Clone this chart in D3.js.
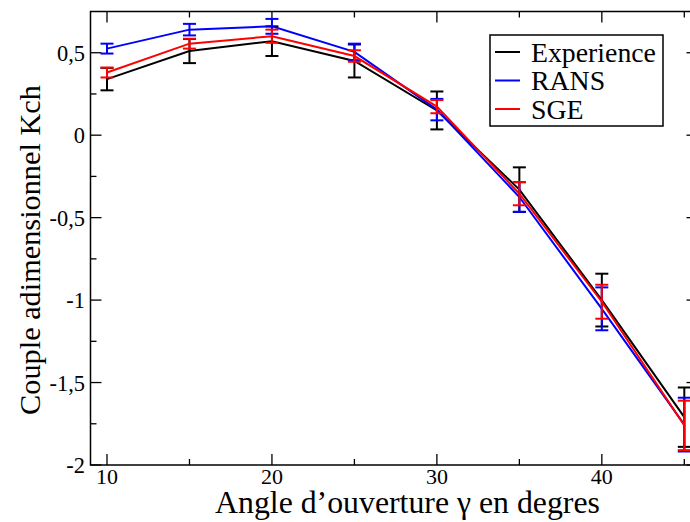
<!DOCTYPE html>
<html>
<head>
<meta charset="utf-8">
<script src="https://cdn.jsdelivr.net/npm/d3@7"></script>
<style>
  body { margin: 0; background: #fff; }
</style>
</head>
<body>
<svg id="graphe" width="690" height="522"></svg>
<script>
// angle d'ouverture (degres)
const angles = [10, 15, 20, 25, 30, 35, 40, 45];
// couple adimensionnel Kch et barres d'erreur
const experience    = [0.34, 0.51, 0.57, 0.45, 0.15, -0.33, -1.00, -1.71];
const experienceErr = [0.068, 0.073, 0.09, 0.10, 0.115, 0.135, 0.16, 0.18];
const rans          = [0.525, 0.64, 0.66, 0.505, 0.155, -0.375, -1.053, -1.755];
const ransErr       = [0.03, 0.035, 0.045, 0.05, 0.065, 0.09, 0.13, 0.163];
const sge           = [0.38, 0.555, 0.60, 0.48, 0.173, -0.355, -1.01, -1.76];
const sgeErr        = [0.03, 0.03, 0.04, 0.035, 0.04, 0.07, 0.103, 0.15];

const noms = ["Experience", "RANS", "SGE"];
const xTicks = [10, 20, 30, 40];
const xMinor = [15, 25, 35, 45];
const yTicks = [-2, -1.5, -1, -0.5, 0, 0.5];
const yMinor = [-1.75, -1.25, -0.75, -0.25, 0.25];
const yLabels = ["-2", "-1,5", "-1", "-0,5", "0", "0,5"];

const series = [
    { nom: noms[0], y: experience, err: experienceErr, couleur: "#000000" },
    { nom: noms[1], y: rans,       err: ransErr,       couleur: "#0000ff" },
    { nom: noms[2], y: sge,        err: sgeErr,        couleur: "#ff0000" }
];

// cherche une police serif installee (sinon on garde la police par defaut)
function policeDispo(nom) {
    const ctx = document.createElement("canvas").getContext("2d");
    const essai = "Experience adimensionnel 0123";
    return ["monospace", "sans-serif"].some(base => {
        ctx.font = "40px " + base;
        const w0 = ctx.measureText(essai).width;
        ctx.font = "40px '" + nom + "', " + base;
        return ctx.measureText(essai).width !== w0;
    });
}
const candidats = ["Liberation Serif", "Tinos", "Times New Roman", "Nimbus Roman", "Nimbus Roman No9 L",
                   "FreeSerif", "DejaVu Serif", "Noto Serif", "Noto Serif CJK SC", "Source Han Serif SC"];
const trouve = candidats.find(policeDispo);
const police = trouve ? "'" + trouve + "', serif" : "serif";

const svg = d3.select("#graphe").attr("font-family", police);
const x = d3.scaleLinear().domain([9, 45.8]).range([90.5, 697.5]);
const y = d3.scaleLinear().domain([-2, 0.75]).range([465, 11.5]);
const [x0, x1] = x.range();
const [y0, y1] = y.range();

// ajuste la taille d'un texte a la largeur voulue
function ajuste(sel, largeur) {
    const w = sel.node().getComputedTextLength();
    const fs = +sel.attr("font-size");
    if (w > 0) sel.attr("font-size", fs * largeur / w);
}

// cadre
svg.append("rect")
    .attr("x", x0).attr("y", y1)
    .attr("width", x1 - x0).attr("height", y0 - y1)
    .attr("fill", "none").attr("stroke", "#000").attr("stroke-width", 1.5);

const tk = svg.append("g").attr("stroke", "#000").attr("stroke-width", 1.3);
function tickX(v, len) {
    tk.append("line").attr("x1", x(v)).attr("x2", x(v)).attr("y1", y0).attr("y2", y0 - len);
    tk.append("line").attr("x1", x(v)).attr("x2", x(v)).attr("y1", y1).attr("y2", y1 + len);
}
function tickY(v, len) {
    tk.append("line").attr("y1", y(v)).attr("y2", y(v)).attr("x1", x0).attr("x2", x0 + len);
    tk.append("line").attr("y1", y(v)).attr("y2", y(v)).attr("x1", x1).attr("x2", x1 - len);
}
xTicks.forEach(v => tickX(v, 11));
xMinor.forEach(v => tickX(v, 6));
yTicks.forEach(v => tickY(v, 11));
yMinor.forEach(v => tickY(v, 6));

// etiquettes des graduations
const tx = svg.append("g").selectAll("text").data(xTicks).join("text")
    .attr("x", d => x(d)).attr("y", 484)
    .attr("text-anchor", "middle").attr("font-size", 22)
    .text(d => d);
ajuste(tx.filter((d, i) => i === 0), 22);
tx.attr("font-size", tx.filter((d, i) => i === 0).attr("font-size"));

const ty = svg.append("g").selectAll("text").data(yTicks).join("text")
    .attr("x", 85).attr("y", d => y(d) + 8)
    .attr("text-anchor", "end").attr("font-size", 22)
    .text((d, i) => yLabels[i]);
const ref05 = ty.filter((d, i) => i === 5);
ajuste(ref05, 28);
ty.attr("font-size", ref05.attr("font-size"));

// titres des axes
const titreX = svg.append("text")
    .attr("x", 407.5).attr("y", 513)
    .attr("text-anchor", "middle").attr("font-size", 30)
    .text("Angle d\u2019ouverture \u03b3 en degres");
ajuste(titreX, 385);
const titreY = svg.append("text")
    .attr("transform", "translate(40,250) rotate(-90)")
    .attr("text-anchor", "middle").attr("font-size", 30)
    .text("Couple adimensionnel Kch");
ajuste(titreY, 330);

// courbes + barres d'erreur
const ligne = d3.line().x((d, i) => x(angles[i])).y(d => y(d));
series.forEach(s => {
    const g = svg.append("g").attr("stroke", s.couleur).attr("fill", "none").attr("stroke-width", 2);
    g.append("path").attr("d", ligne(s.y));
    s.y.forEach((v, i) => {
        const cx = x(angles[i]);
        const hi = y(v + s.err[i]), lo = y(v - s.err[i]);
        g.append("line").attr("x1", cx).attr("x2", cx).attr("y1", hi).attr("y2", lo);
        g.append("line").attr("x1", cx - 6.5).attr("x2", cx + 6.5).attr("y1", hi).attr("y2", hi);
        g.append("line").attr("x1", cx - 6.5).attr("x2", cx + 6.5).attr("y1", lo).attr("y2", lo);
    });
});

// legende
const leg = svg.append("g");
leg.append("rect").attr("x", 490).attr("y", 35).attr("width", 173).attr("height", 91)
    .attr("fill", "#fff").attr("stroke", "#000").attr("stroke-width", 1.5);
const legTextes = [];
series.forEach((s, i) => {
    const ly = 52 + i * 28.5;
    leg.append("line").attr("x1", 495).attr("x2", 520).attr("y1", ly).attr("y2", ly)
        .attr("stroke", s.couleur).attr("stroke-width", 2);
    legTextes.push(leg.append("text").attr("x", 531).attr("y", ly + 9.5).attr("font-size", 27).text(s.nom));
});
ajuste(legTextes[0], 125);
legTextes.forEach(t => t.attr("font-size", legTextes[0].attr("font-size")));
</script>
</body>
</html>
